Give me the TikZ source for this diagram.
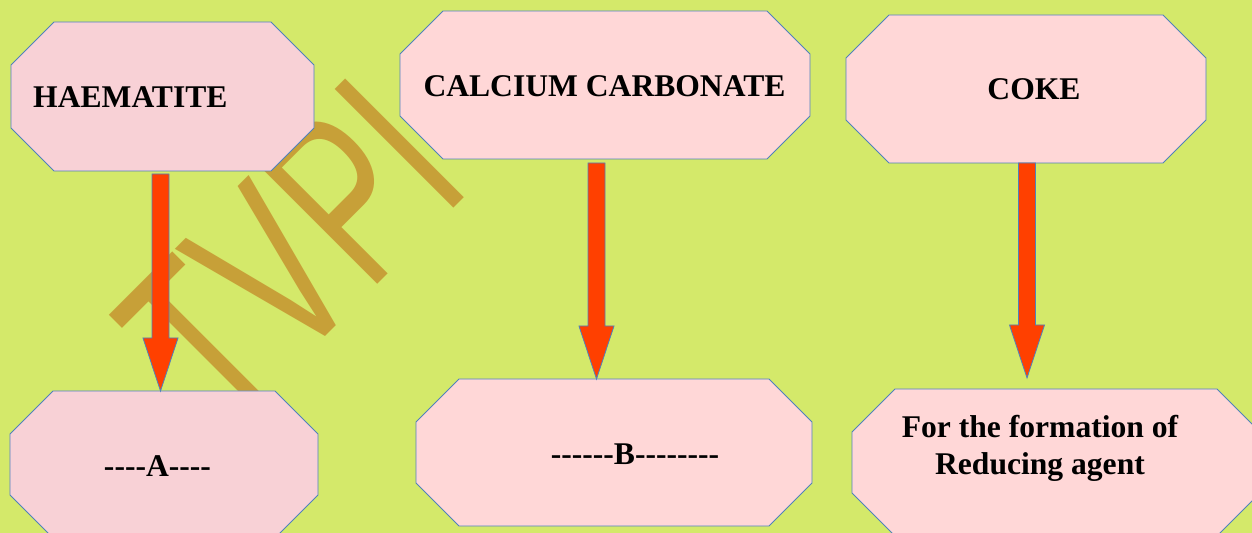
\documentclass[tikz,border=0pt]{standalone}
\usepackage{fontspec}
\newfontfamily\serifplain{Liberation Serif}
\newfontfamily\wmfont{Liberation Sans}
\usetikzlibrary{calc}
\definecolor{bg}{RGB}{212,233,106}
\definecolor{pinkA}{RGB}{248,209,214}
\definecolor{pinkB}{RGB}{255,215,215}
\definecolor{edge}{RGB}{79,129,189}
\definecolor{arrowred}{RGB}{255,64,0}
\definecolor{gold}{RGB}{199,160,56}
\newcommand\octagonbox[2]{%
  \filldraw[octedge, fill=#2] let \p1=(#1.south west), \p2=(#1.north east) in
   (\x1+43bp,\y1) -- (\x2-43bp,\y1) -- (\x2,\y1+43bp) -- (\x2,\y2-43bp) --
   (\x2-43bp,\y2) -- (\x1+43bp,\y2) -- (\x1,\y2-43bp) -- (\x1,\y1+43bp) -- cycle;}
\newcommand\fatarrow[2]{%
  \filldraw[fatarrowstyle] let \p1=(#1), \p2=(#2) in
   (\x1-8.5bp,\y1) -- (\x1+8.5bp,\y1) -- (\x1+8.5bp,\y2+53bp) -- (\x1+17.5bp,\y2+53bp) --
   (\x1,\y2) -- (\x1-17.5bp,\y2+53bp) -- (\x1-8.5bp,\y2+53bp) -- cycle;}
\begin{document}
\begin{tikzpicture}[x=1bp,y=-1bp,
  frame/.style={inner sep=0pt, outer sep=0pt, draw=none},
  octedge/.style={draw=edge, line width=0.9bp, line join=miter},
  fatarrowstyle/.style={draw=edge, fill=arrowred, line width=0.8bp, line join=miter},
  label/.style={inner sep=0pt, font=\serifplain\bfseries\fontsize{31.6bp}{37bp}\selectfont}]
\useasboundingbox (0,0) rectangle (1252,533);
\clip (0,0) rectangle (1252,533);
\fill[bg] (0,0) rectangle (1252,533);
% watermark
\begin{scope}[shift={(225,437)}, rotate=45, xscale=0.65]
  \node[transform shape, anchor=base west, inner sep=0pt, text=gold,
        font=\wmfont\fontsize{244bp}{244bp}\selectfont] (wm) at (0,0) {TVPI};
\end{scope}
% box frames
\node[frame, minimum width=303bp, minimum height=149bp] (h)  at (162.5,96.5) {};
\node[frame, minimum width=410bp, minimum height=148bp] (cc) at (605,85) {};
\node[frame, minimum width=360bp, minimum height=148bp] (ck) at (1026,89) {};
\node[frame, minimum width=308bp, minimum height=147bp] (a)  at (164,464.5) {};
\node[frame, minimum width=396bp, minimum height=147bp] (b)  at (614,452.5) {};
\node[frame, minimum width=408bp, minimum height=147bp] (r)  at (1056,462.5) {};
\octagonbox{h}{pinkA}
\octagonbox{cc}{pinkB}
\octagonbox{ck}{pinkB}
\octagonbox{a}{pinkA}
\octagonbox{b}{pinkB}
\octagonbox{r}{pinkB}
% texts
\node[label, anchor=base west] (ht)  at (33,108) {HAEMATITE};
\node[label, anchor=base] (cct) at (604.5,97) {CALCIUM CARBONATE};
\node[label, anchor=base] (ckt) at (1034,100) {COKE};
\node[label, anchor=base] (at)  at (157.5,476) {----A----};
\node[label, anchor=base] (bt)  at (635,464) {------B--------};
\node[label, anchor=base, align=center] (rt) at (1040,474) {For the formation of\\Reducing agent};
% arrows
\coordinate (a1s) at (160.5,174);
\coordinate (a1e) at (a1s |- a.north);
\coordinate (a2s) at (596.5,163);
\coordinate (a2e) at (a2s |- b.north);
\coordinate (a3s) at (1027,163);
\coordinate (a3e) at (1027,378);
\fatarrow{a1s}{a1e}
\fatarrow{a2s}{a2e}
\fatarrow{a3s}{a3e}
\end{tikzpicture}
\end{document}
